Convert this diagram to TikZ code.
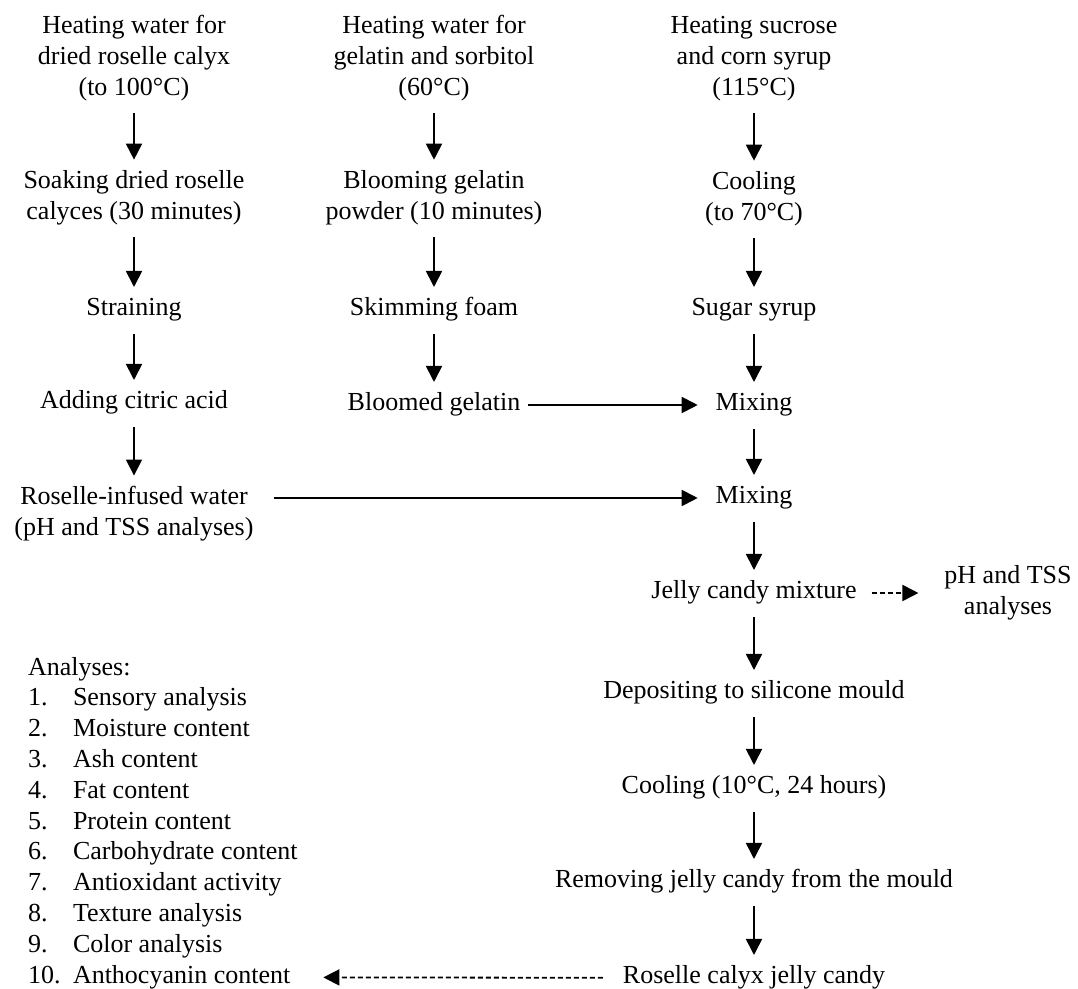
\documentclass[tikz,border=0pt]{standalone}
\usepackage{fontspec}
\setmainfont{Liberation Serif}
\usetikzlibrary{arrows.meta}

\begin{document}
\begin{tikzpicture}[x=0.5pt,y=-0.5pt,
  every node/.style={align=center, inner sep=0pt, outer sep=0pt, font=\fontsize{13}{15.5}\selectfont},
  line/.style={text height=9pt, text depth=3pt},
  flow/.style={-{Triangle[width=8pt,length=8pt]}, line width=0.9pt, shorten <=6pt, shorten >=5.5pt},
  side/.style={flow, shorten <=10pt, shorten >=9pt},
  dflow/.style={side, dash pattern=on 2.5pt off 1.5pt}]
\useasboundingbox (0,0) rectangle (1078,989);

% roselle column
\node (h1) at (134,58.5) {Heating water for\\dried roselle calyx\\(to 100°C)};
\node (soak) at (134,198) {Soaking dried roselle\\calyces (30 minutes)};
\node[line] (strain) at (134,310) {Straining};
\node[line] (acid) at (134,403) {Adding citric acid};
\node (inf) at (134,514) {Roselle-infused water\\(pH and TSS analyses)};

% gelatin column
\node (h2) at (434,58.5) {Heating water for\\gelatin and sorbitol\\(60°C)};
\node (bloom) at (434,198) {Blooming gelatin\\powder (10 minutes)};
\node[line] (skim) at (434,310) {Skimming foam};
\node[line] (bg) at (434,405) {Bloomed gelatin};

% syrup column
\node (h3) at (754,58.5) {Heating sucrose\\and corn syrup\\(115°C)};
\node (cool1) at (754,199) {Cooling\\(to 70°C)};
\node[line] (sugar) at (754,310) {Sugar syrup};
\node[line] (mix1) at (754,405) {Mixing};
\node[line] (mix2) at (754,498) {Mixing};
\node[line] (jm) at (754,593) {Jelly candy mixture};
\node[line] (dep) at (754,693) {Depositing to silicone mould};
\node[line] (cool2) at (754,788) {Cooling (10°C, 24 hours)};
\node[line] (rem) at (754,882) {Removing jelly candy from the mould};
\node[line] (fin) at (754,978) {Roselle calyx jelly candy};

\node (ph) at (1008,593) {pH and TSS\\analyses};

% analyses list
\node[line, anchor=west] (ana) at (28,670) {Analyses:};
\foreach \i/\txt in {1/Sensory analysis, 2/Moisture content, 3/Ash content,
  4/Fat content, 5/Protein content, 6/Carbohydrate content,
  7/Antioxidant activity, 8/Texture analysis, 9/Color analysis,
  10/Anthocyanin content} {
  \node[line, anchor=west] (n\i) at (28,{700+30.8*(\i-1)}) {\i.};
  \node[line, anchor=west] (t\i) at (73,{700+30.8*(\i-1)}) {\txt};
}

\draw[flow] (h1) -- (soak);
\draw[flow] (soak) -- (strain);
\draw[flow] (strain) -- (acid);
\draw[flow] (acid) -- (inf);

\draw[flow] (h2) -- (bloom);
\draw[flow] (bloom) -- (skim);
\draw[flow] (skim) -- (bg);

\draw[flow] (h3) -- (cool1);
\draw[flow] (cool1) -- (sugar);
\draw[flow] (sugar) -- (mix1);
\draw[flow] (mix1) -- (mix2);
\draw[flow] (mix2) -- (jm);
\draw[flow] (jm) -- (dep);
\draw[flow] (dep) -- (cool2);
\draw[flow] (cool2) -- (rem);
\draw[flow] (rem) -- (fin);

\draw[side, shorten <=4pt] (bg) -- (mix1);
\draw[side] (inf.east |- mix2.west) -- (mix2);
\draw[dflow, shorten <=7.5pt, shorten >=13pt] (jm) -- (ph.west |- jm.east);
\draw[dflow, shorten >=16.5pt] (fin) -- (t10);
\end{tikzpicture}
\end{document}
